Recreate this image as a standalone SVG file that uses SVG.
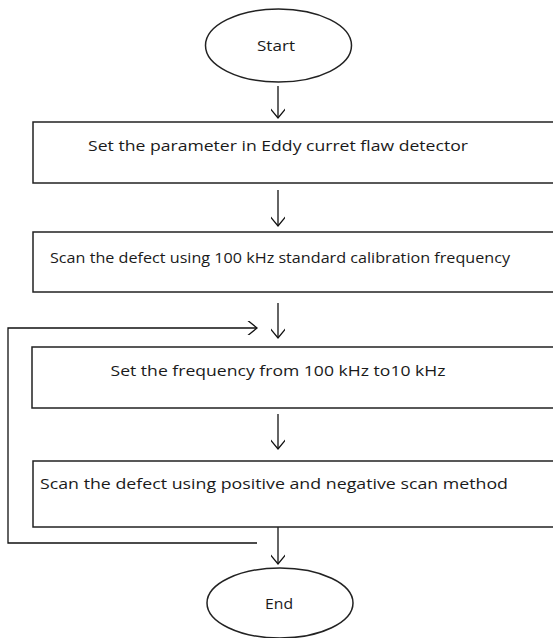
<svg xmlns="http://www.w3.org/2000/svg" width="553" height="638" viewBox="0 0 553 638">
<defs>
<marker id="arr" markerWidth="14" markerHeight="14" refX="12" refY="7" orient="auto" markerUnits="userSpaceOnUse">
<path d="M1,-2 L12,7 L1,16" fill="none" stroke="#111" stroke-width="1.3"/>
</marker>
<style>
.n{fill:#fff;stroke:#222;stroke-width:1.5}
.t{font-family:"Open Sans","Liberation Sans",sans-serif;font-size:15px;fill:#1a1a1a;text-anchor:middle;dominant-baseline:central}
.c{fill:none;stroke:#111;stroke-width:1.3}
</style>
</defs>
<rect width="553" height="638" fill="#fff"/>
<g id="connectors">
<line class="c" x1="278" y1="86" x2="278" y2="118" marker-end="url(#arr)"/>
<line class="c" x1="278" y1="190" x2="278" y2="226" marker-end="url(#arr)"/>
<line class="c" x1="278" y1="303" x2="278" y2="338" marker-end="url(#arr)"/>
<line class="c" x1="278" y1="414" x2="278" y2="449" marker-end="url(#arr)"/>
<line class="c" x1="278" y1="527" x2="278" y2="564" marker-end="url(#arr)"/>
<polyline class="c" points="257,543 8,543 8,328 257,328" marker-end="url(#arr)"/>
</g>
<g id="start">
<ellipse class="n" cx="278.5" cy="45.5" rx="73" ry="36.5"/>
<text class="t" x="276" y="45" textLength="38" lengthAdjust="spacingAndGlyphs">Start</text>
</g>
<g id="step1">
<rect class="n" x="33" y="122" width="530" height="61"/>
<text class="t" x="278" y="145" textLength="380" lengthAdjust="spacingAndGlyphs">Set the parameter in Eddy curret flaw detector</text>
</g>
<g id="step2">
<rect class="n" x="33" y="232" width="530" height="60"/>
<text class="t" x="280" y="257" textLength="460" lengthAdjust="spacingAndGlyphs">Scan the defect using 100 kHz standard calibration frequency</text>
</g>
<g id="step3">
<rect class="n" x="32" y="347" width="530" height="61"/>
<text class="t" x="278" y="370" textLength="335" lengthAdjust="spacingAndGlyphs">Set the frequency from 100 kHz to10 kHz</text>
</g>
<g id="step4">
<rect class="n" x="33" y="461" width="530" height="66"/>
<text class="t" x="274" y="483" textLength="468" lengthAdjust="spacingAndGlyphs">Scan the defect using positive and negative scan method</text>
</g>
<g id="end">
<ellipse class="n" cx="280" cy="603" rx="73" ry="35"/>
<text class="t" x="279" y="603" textLength="28" lengthAdjust="spacingAndGlyphs">End</text>
</g>
</svg>
